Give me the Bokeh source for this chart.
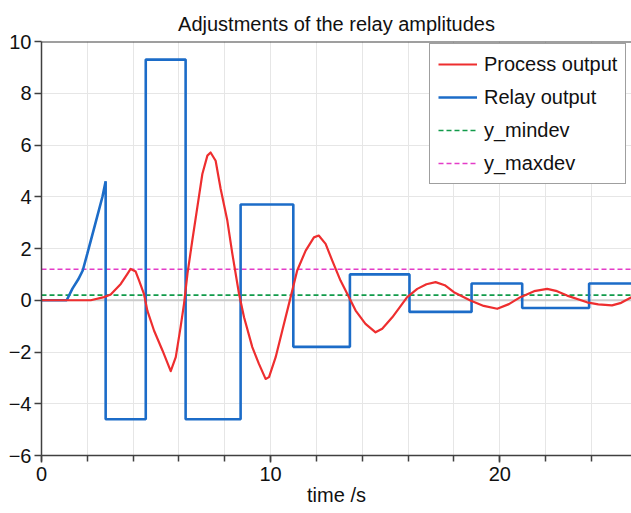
from bokeh.plotting import figure
from bokeh.models import (Range1d, SingleIntervalTicker, Span, Legend, LegendItem)
from bokeh.embed import file_html
from bokeh.resources import INLINE

# ---- data ----
proc_t = [0, 1.1, 2.15, 2.73, 3.02, 3.46, 3.75, 3.89, 4.11, 4.26, 4.47, 4.62, 4.91,
          5.28, 5.64, 5.86, 6.07, 6.22, 6.37, 6.58, 6.8, 7.02, 7.24, 7.38, 7.6, 7.82,
          8.11, 8.33, 8.62, 8.84, 9.2, 9.49, 9.78, 9.93, 10.22, 10.51, 10.8, 11.16,
          11.53, 11.89, 12.1, 12.4, 12.69, 13.05, 13.42, 13.71, 14.14, 14.58, 14.87,
          15.31, 15.96, 16.4, 16.8, 17.2, 17.6, 18.0, 18.72, 19.3, 19.89, 20.4, 20.9,
          21.5, 22.07, 22.5, 22.94, 23.81, 24.3, 24.9, 25.3, 25.75]
proc_y = [0, 0, 0.0, 0.12, 0.22, 0.63, 1.02, 1.21, 1.11, 0.76, 0.25, -0.4, -1.17,
          -1.94, -2.74, -2.2, -1.04, -0.14, 1.02, 2.3, 3.59, 4.88, 5.59, 5.71, 5.39,
          4.3, 3.08, 1.79, 0.25, -0.66, -1.81, -2.46, -3.04, -2.97, -2.2, -1.17, -0.14,
          1.15, 1.92, 2.43, 2.5, 2.18, 1.53, 0.76, 0.12, -0.4, -0.91, -1.24, -1.1,
          -0.66, 0.12, 0.44, 0.62, 0.7, 0.58, 0.31, -0.01, -0.22, -0.33, -0.15, 0.12,
          0.35, 0.44, 0.35, 0.18, -0.08, -0.16, -0.2, -0.1, 0.12]

# relay output: initial ramp, then piecewise-constant levels after switch times
relay_ramp_t = [0, 1.1, 1.35, 1.6, 1.8, 2.0, 2.3, 2.66, 2.8]
relay_ramp_y = [0, 0, 0.45, 0.8, 1.15, 1.8, 2.8, 4.0, 4.6]
relay_switch_t = [2.8, 4.55, 6.29, 8.69, 10.99, 13.46, 16.06, 18.77, 20.98, 23.9]
relay_levels = [-4.6, 9.3, -4.6, 3.7, -1.8, 1.0, -0.45, 0.65, -0.3, 0.65]
t_end = 25.75

y_mindev = 0.2
y_maxdev = 1.2

x_start, x_end = 0, 25.75
y_start, y_end = -6, 10

# build relay polyline from the data
relay_t = list(relay_ramp_t)
relay_y = list(relay_ramp_y)
prev = relay_ramp_y[-1]
for ts, lv in zip(relay_switch_t, relay_levels):
    relay_t += [ts, ts]
    relay_y += [prev, lv]
    prev = lv
relay_t.append(t_end)
relay_y.append(prev)

FONT = "Liberation Sans"
AX = "#404040"

p = figure(width=631, height=513, output_backend="svg", toolbar_location=None,
           x_range=Range1d(x_start, x_end), y_range=Range1d(y_start, y_end),
           min_border_left=41, min_border_right=0, min_border_top=41,
           min_border_bottom=58, outline_line_color=None,
           title="Adjustments of the relay amplitudes")
p.background_fill_color = "white"
p.border_fill_color = "white"

p.title.text_font = FONT
p.title.text_font_size = "20px"
p.title.text_font_style = "normal"
p.title.text_color = "#111111"
p.title.align = "center"
p.title.vertical_align = "bottom"
p.title.standoff = 13

xt = SingleIntervalTicker(interval=10, num_minor_ticks=5)
yt = SingleIntervalTicker(interval=2, num_minor_ticks=0)
p.xaxis.ticker = xt
p.yaxis.ticker = yt
p.xgrid.ticker = xt
p.ygrid.ticker = yt
for g in (p.xgrid, p.ygrid):
    g.grid_line_color = "#e6e6e6"
    g.grid_line_width = 1
p.xgrid.minor_grid_line_color = "#e6e6e6"
p.xgrid.minor_grid_line_width = 1

for ax in (p.xaxis, p.yaxis):
    ax.axis_line_color = AX
    ax.axis_line_width = 1.5
    ax.major_tick_line_color = AX
    ax.minor_tick_line_color = AX
    ax.major_tick_line_width = 1.5
    ax.minor_tick_line_width = 1.5
    ax.major_tick_in = 0
    ax.minor_tick_in = 0
    ax.major_label_text_font = FONT
    ax.major_label_text_font_size = "20px"
    ax.major_label_text_color = "#111111"
    ax.axis_label_text_font = FONT
    ax.axis_label_text_font_size = "20px"
    ax.axis_label_text_font_style = "normal"
    ax.axis_label_text_color = "#111111"
p.xaxis.major_tick_out = 7
p.xaxis.minor_tick_out = 6
p.yaxis.major_tick_out = 7
p.yaxis.major_label_standoff = 3
p.xaxis.major_label_standoff = 4
p.xaxis.axis_label = "time /s"
p.xaxis.axis_label_standoff = 0

# zero line and top frame line
p.add_layout(Span(location=0, dimension="width", line_color="#cccccc", line_width=2,
                  level="underlay"))
p.add_layout(Span(location=y_end, dimension="width", line_color=AX, line_width=2))

r_min = p.line([x_start, t_end], [y_mindev, y_mindev], line_color="#119a4a",
               line_width=1.6, line_dash="5 3")
r_max = p.line([x_start, t_end], [y_maxdev, y_maxdev], line_color="#e43cc8",
               line_width=1.6, line_dash="5 3")
r_relay = p.line(relay_t, relay_y, line_color="#1c6cc8", line_width=2.6)
r_proc = p.line(proc_t, proc_y, line_color="#ee2e2f", line_width=2.2,
                line_join="round")

legend = Legend(items=[
    LegendItem(label="Process output", renderers=[r_proc]),
    LegendItem(label="Relay output", renderers=[r_relay]),
    LegendItem(label="y_mindev", renderers=[r_min]),
    LegendItem(label="y_maxdev", renderers=[r_max]),
], location=(388, 271), margin=0, padding=8, spacing=9,
    glyph_width=39, glyph_height=24, label_height=24, label_standoff=7,
    label_text_font=FONT, label_text_font_size="20px", label_text_color="#111111",
    border_line_color=AX, border_line_width=1.5, background_fill_alpha=1.0)
p.add_layout(legend, "center")

open("out.html", "w").write(file_html(p, INLINE))
